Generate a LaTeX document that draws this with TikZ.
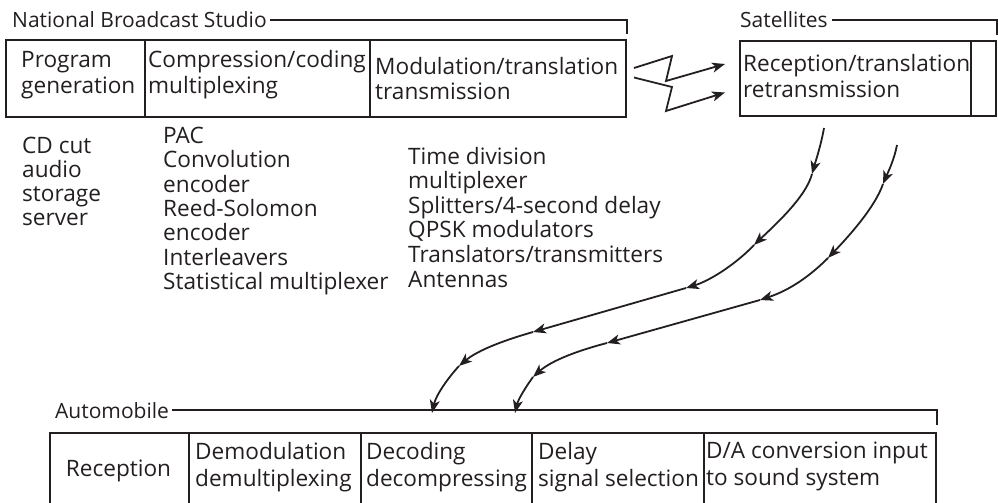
\documentclass[tikz,border=0pt]{standalone}
\usepackage{fontspec}
\setmainfont{Open Sans}
\usetikzlibrary{arrows.meta}
\definecolor{ink}{HTML}{231F20}
\begin{document}
\begin{tikzpicture}[x=1pt,y=-1pt,
  cell/.style={draw=ink, line width=2pt, inner sep=0pt, anchor=north west},
  brk/.style={draw=ink, line width=1.6pt},
  ttl/.style={inner sep=0pt, anchor=base west, text=ink, font=\fontsize{21}{24}\selectfont},
  one/.style={inner sep=0pt, text=ink, font=\fontsize{22.6}{26}\selectfont},
  two/.style={inner sep=0pt, anchor=north west, align=left, text=ink,
     font=\fontsize{22.6}{#1}\selectfont, execute at begin node=\strut},
  two/.default=26,
  tip/.style={-{Stealth[length=13pt,width=10pt,inset=3.5pt]}},
  wire/.style={draw=ink, line width=1.8pt, tip}
]
\useasboundingbox (0,0) rectangle (998,503);

% ---------- National Broadcast Studio ----------
\node[ttl] (nbs) at (12,28) {National Broadcast Studio};
\node[cell, minimum width=139pt, minimum height=77pt] (pgc) at (5,39) {};
\node[cell, minimum width=225pt, minimum height=77pt] (cmc) at (144,39) {};
\node[cell, minimum width=256pt, minimum height=77pt] (mdc) at (369,39) {};
\draw[brk] ([xshift=3pt]nbs.east) -| ([yshift=5pt]mdc.north east);

\node[two] (pgt) at (21,50.8) {Program\\generation};
\node[two] (cmt) at (148,49.8) {Compression/coding\\multiplexing};
\node[two=25] (mdt) at (375,57.5) {Modulation/translation\\transmission};

\node[two=23.7] (pgl) at (22,137.4) {CD cut\\audio\\storage\\server};
\node[two=24.3] (cml) at (163,127) {PAC\\Convolution\\encoder\\Reed-Solomon\\encoder\\Interleavers\\Statistical multiplexer};
\node[two=24.6] (mdl) at (408,146.8) {Time division\\multiplexer\\Splitters/4-second delay\\QPSK modulators\\Translators/transmitters\\Antennas};

% ---------- Satellites ----------
\node[ttl] (sat) at (740,28) {Satellites};
\node[cell, minimum width=231pt, minimum height=75pt] (stc) at (739,40) {};
\node[cell, minimum width=25pt, minimum height=75pt] (stx) at (970,40) {};
\draw[brk] ([xshift=4pt]sat.east) -| ([yshift=5pt]stx.north east);
\node[two] (stt) at (743,53.8) {Reception/translation\\retransmission};

% uplinks
\draw[wire] ([shift={(7,-10.5)}]mdc.east) -- (672,56) -- (666,81) -- ([shift={(-14,-14.5)}]stc.west);
\draw[wire] ([shift={(7,-20.5)}]mdc.east |- 0,98) -- (672,87) -- (666,111) -- ([shift={(-14,-15.5)}]stc.west |- 0,108);

% ---------- Automobile ----------
\node[ttl] (aut) at (55,418) {Automobile};
\node[cell, minimum width=139pt, minimum height=90pt] (ac1) at (49,432) {};
\node[cell, minimum width=172pt, minimum height=90pt] (ac2) at (188,432) {};
\node[cell, minimum width=171pt, minimum height=90pt] (ac3) at (360,432) {};
\node[cell, minimum width=172pt, minimum height=90pt] (ac4) at (531,432) {};
\node[cell, minimum width=232pt, minimum height=90pt] (ac5) at (703,432) {};
\draw[brk] ([xshift=3pt]aut.east) -| ([yshift=7pt]ac5.north east);

\node[one, anchor=base] (at1) at (118.5,476) {Reception};
\node[two=27] (at2) at (195,442.1) {Demodulation\\demultiplexing};
\node[two=27] (at3) at (366,442.1) {Decoding\\decompressing};
\node[two=27] (at4) at (538,442.1) {Delay\\signal selection};
\node[two=27] (at5) at (706,442.1) {D/A conversion input\\to sound system};

% ---------- downlinks ----------
\coordinate (d1s) at (824,128);
\coordinate (d2s) at (897,145);
\coordinate (d1e) at (432,413);
\coordinate (d2e) at (515,413);

\draw[wire] (d1s) .. controls (821,145) and (816,160) .. (812,174);
\draw[wire] (812,174) .. controls (806,197) and (775,225) .. (754,245);
\draw[wire] (754,245) .. controls (738,262) and (712,280) .. (686,288);
\draw[wire] (686,288) -- (533,332);
\draw[wire] (533,332) .. controls (505,340) and (478,350) .. (459,366);
\draw[wire] (459,366) .. controls (448,378) and (436,395) .. (d1e);

\draw[wire] (d2s) .. controls (894,160) and (889,170) .. (883,184);
\draw[wire] (883,184) .. controls (875,207) and (850,235) .. (828,258);
\draw[wire] (828,258) .. controls (810,276) and (790,290) .. (760,300);
\draw[wire] (760,300) -- (607,343);
\draw[wire] (607,343) .. controls (580,350) and (552,360) .. (533,377);
\draw[wire] (533,377) .. controls (525,388) and (518,400) .. (d2e);
\end{tikzpicture}
\end{document}
